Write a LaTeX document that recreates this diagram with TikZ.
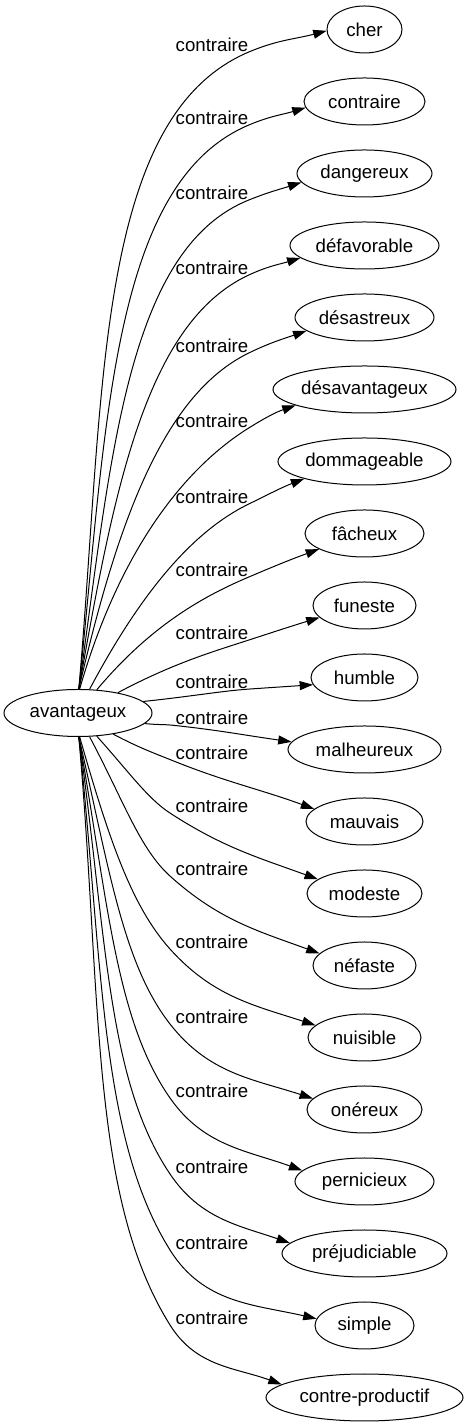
\documentclass[tikz,border=0pt]{standalone}
\usepackage{fontspec}
\setmainfont{Liberation Sans}
\usetikzlibrary{arrows.meta,shapes.geometric}

\begin{document}
\begin{tikzpicture}[x=0.75pt,y=0.75pt,font=\fontsize{14pt}{16pt}\selectfont,
 word/.style={ellipse,draw,line width=0.75pt,inner sep=0pt,minimum height=35.25pt,minimum width=#1*0.75pt},
 rel/.style={inner sep=0pt},
 edge/.style={-{Triangle[length=10pt,width=6.7pt]},line width=0.75pt},
 bow/.style={out looseness=1.15,in looseness=0.65}]
 \useasboundingbox (0,0) rectangle (468,1427);
 \node[word=148] (avantageux) at (78,714) {avantageux};
 \node[word=75] (cher) at (364.5,1397.5) {cher};
 \node[word=121] (contraire) at (364.5,1325.5) {contraire};
 \node[word=135] (dangereux) at (364.5,1253.5) {dangereux};
 \node[word=149] (defavorable) at (364.5,1181.5) {défavorable};
 \node[word=139] (desastreux) at (364.5,1109.5) {désastreux};
 \node[word=183] (desavantageux) at (364.5,1037.5) {désavantageux};
 \node[word=173] (dommageable) at (364.5,965.5) {dommageable};
 \node[word=119] (facheux) at (364.5,893.5) {fâcheux};
 \node[word=103] (funeste) at (364.5,821.5) {funeste};
 \node[word=107] (humble) at (364.5,749.5) {humble};
 \node[word=153] (malheureux) at (364.5,677.5) {malheureux};
 \node[word=117] (mauvais) at (364.5,605.5) {mauvais};
 \node[word=115] (modeste) at (364.5,533.5) {modeste};
 \node[word=103] (nefaste) at (364.5,461.5) {néfaste};
 \node[word=113] (nuisible) at (364.5,389.5) {nuisible};
 \node[word=115] (onereux) at (364.5,317.5) {onéreux};
 \node[word=139] (pernicieux) at (364.5,245.5) {pernicieux};
 \node[word=165] (prejudiciable) at (364.5,173.5) {préjudiciable};
 \node[word=99] (simple) at (364.5,101.5) {simple};
 \node[word=197] (contreproductif) at (364.5,29.5) {contre-productif};

 \node[rel] (lab1) at (212,1382) {contraire};
 \node[rel] (lab2) at (212,1309) {contraire};
 \node[rel] (lab3) at (212,1234) {contraire};
 \node[rel] (lab4) at (212,1159) {contraire};
 \node[rel] (lab5) at (212,1081) {contraire};
 \node[rel] (lab6) at (212,1006) {contraire};
 \node[rel] (lab7) at (212,930) {contraire};
 \node[rel] (lab8) at (212,857) {contraire};
 \node[rel] (lab9) at (212,794) {contraire};
 \node[rel] (lab10) at (212,745) {contraire};
 \node[rel] (lab11) at (212,709) {contraire};
 \node[rel] (lab12) at (212,674) {contraire};
 \node[rel] (lab13) at (212,621) {contraire};
 \node[rel] (lab14) at (212,558) {contraire};
 \node[rel] (lab15) at (212,485) {contraire};
 \node[rel] (lab16) at (212,410) {contraire};
 \node[rel] (lab17) at (212,336) {contraire};
 \node[rel] (lab18) at (212,260) {contraire};
 \node[rel] (lab19) at (212,184) {contraire};
 \node[rel] (lab20) at (212,109) {contraire};

 \draw[edge] (avantageux.88) to[bow,out=85,in=203] (lab1.south east) to[out=23,in=195] (cher.182);
 \draw[edge] (avantageux.88) to[bow,out=84,in=203] (lab2.south east) to[out=23,in=197] (contraire.186);
 \draw[edge] (avantageux.88) to[bow,out=82,in=202] (lab3.south east) to[out=22,in=198] (dangereux.188);
 \draw[edge] (avantageux.88) to[bow,out=80,in=205] (lab4.south east) to[out=25,in=197] (defavorable.191);
 \draw[edge] (avantageux.88) to[bow,out=77,in=206] (lab5.south east) to[out=26,in=199] (desastreux.193);
 \draw[edge] (avantageux.86) to[bow,out=74,in=212] (lab6.south east) to[out=32,in=199] (desavantageux.193);
 \draw[edge] (avantageux.64) to[bow,out=62,in=206] (lab7.south east) to[out=26,in=201] (dommageable.196);
 \draw[edge] (avantageux.51) to[bow,out=50,in=203] (lab8.south east) to[out=23,in=200] (facheux.199);
 \draw[edge] (avantageux.27) to[bow,out=28,in=198] (lab9.south east) to[out=18,in=197] (funeste.195);
 \draw[edge] (avantageux.10) to[bow,out=6,in=184] (lab10.south east) to[out=4,in=184] (humble.188);
 \draw[edge] (avantageux.-9) to[bow,out=-6,in=174] ([xshift=-3pt]lab11.south west) to[out=-6,in=172] (malheureux.174);
 \draw[edge] (avantageux.-31) to[bow,out=-28,in=158] ([xshift=-3pt]lab12.south west) to[out=-22,in=160] (mauvais.166);
 \draw[edge] (avantageux.-51) to[bow,out=-48,in=147] ([xshift=-4pt]lab13.south west) to[out=-33,in=160] (modeste.163);
 \draw[edge] (avantageux.-64) to[bow,out=-62,in=138] ([xshift=-4pt]lab14.south west) to[out=-42,in=160] (nefaste.165);
 \draw[edge] (avantageux.-86) to[bow,out=-74,in=132] ([xshift=-4pt]lab15.south west) to[out=-48,in=162] (nuisible.166);
 \draw[edge] (avantageux.-88) to[bow,out=-77,in=128] ([xshift=-4pt]lab16.south west) to[out=-52,in=162] (onereux.168);
 \draw[edge] (avantageux.-88) to[bow,out=-80,in=125] ([xshift=-4pt]lab17.south west) to[out=-55,in=160] (pernicieux.170);
 \draw[edge] (avantageux.-88) to[bow,out=-82,in=124] ([xshift=-4pt]lab18.south west) to[out=-56,in=161] (prejudiciable.172);
 \draw[edge] (avantageux.-88) to[bow,out=-84,in=122] ([xshift=-4pt]lab19.south west) to[out=-58,in=167] (simple.172);
 \draw[edge] (avantageux.-88) to[bow,out=-85,in=122] ([xshift=-4pt]lab20.south west) to[out=-58,in=160] (contreproductif.171);
\end{tikzpicture}
\end{document}
